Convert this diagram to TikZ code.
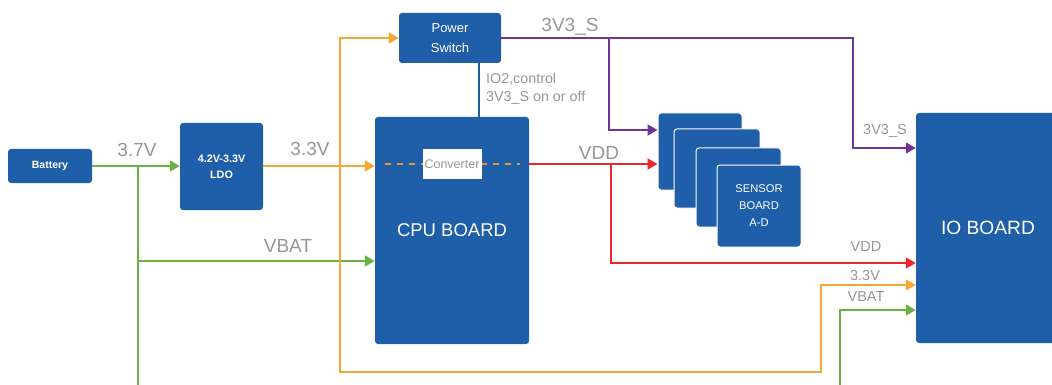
\documentclass[tikz,border=0pt]{standalone}
\usepackage{fontspec}
\setmainfont{Liberation Sans}
\usetikzlibrary{arrows.meta}
\definecolor{boxblue}{RGB}{31,94,168}
\definecolor{lgreen}{RGB}{108,178,66}
\definecolor{lorange}{RGB}{247,166,53}
\definecolor{dorange}{RGB}{222,150,60}
\definecolor{lpurple}{RGB}{112,52,152}
\definecolor{lred}{RGB}{236,40,45}
\definecolor{lgray}{RGB}{150,150,150}
\tikzset{
  board/.style={fill=boxblue, draw=none, rounded corners=3pt, inner sep=0pt, text=white, align=center},
  sbox/.style={board, draw=white, line width=1pt, minimum width=84pt},
  wire/.style={line width=1.8pt},
  tip/.style={-{Triangle[length=10pt,width=11pt]}},
  lbl/.style={text=lgray, inner sep=0pt},
  big/.style={lbl, font=\fontsize{19}{22}\selectfont},
  small/.style={lbl, font=\fontsize{14.5}{17}\selectfont},
}
\begin{document}
\begin{tikzpicture}[x=1pt,y=-1pt]
\useasboundingbox (0,0) rectangle (1052,385);
% boxes
\node[board, minimum width=84pt, minimum height=34pt, font=\fontsize{10.5}{12}\selectfont\bfseries] (batt) at (50,166) {Battery};
\node[board, minimum width=83pt, minimum height=87pt, font=\fontsize{10.8}{16}\selectfont\bfseries] (ldo) at (221.5,166.5) {4.2V-3.3V\\LDO};
\node[board, minimum width=102pt, minimum height=50pt, font=\fontsize{13}{20}\selectfont] (psw) at (450,38) {Power\\Switch};
\node[board, minimum width=154pt, minimum height=227pt] (cpu) at (452,230.5) {};
\node[text=white, font=\fontsize{18.5}{22}\selectfont] (cputxt) at (452,230) {CPU BOARD};
\draw[dorange, line width=1.6pt, dash pattern=on 6pt off 6pt] (385,164) -- (520,164);
\node[fill=white, minimum width=59pt, minimum height=30pt, inner sep=0pt, text=lgray, font=\fontsize{12.5}{14}\selectfont] (conv) at (452,164) {Converter};
\node[sbox, minimum height=77pt] (s1) at (700,151.5) {};
\node[sbox, minimum height=79pt, minimum width=86pt] (s2) at (717,168.5) {};
\node[sbox, minimum height=79pt, minimum width=85pt] (s3) at (738.5,187.5) {};
\node[sbox, minimum height=82pt, font=\fontsize{11.2}{17}\selectfont] (s4) at (759,206) {SENSOR\\BOARD\\A-D};
\node[board, minimum width=144pt, minimum height=230pt, font=\fontsize{19.2}{22}\selectfont] (io) at (988,228) {IO BOARD};
% helper coordinates
\coordinate (g1) at (138,166);
\coordinate (g2) at (138,261);
\coordinate (gb) at (138,385);
\coordinate (oB) at (340,372);
\coordinate (oU) at (821,285);
\coordinate (pR) at (853,148);
\coordinate (pb) at (609,38);
\coordinate (pc) at (609,130);
\coordinate (rb) at (611,164);
\coordinate (r2) at (611,263);
\coordinate (gv) at (840,385);
\coordinate (gv2) at (840,310);
% green
\draw[wire, lgreen, tip] (batt.east) -- (batt.east -| ldo.west);
\draw[wire, lgreen] (g1) -- (gb);
\draw[wire, lgreen, tip] (g2) -- (g2 -| cpu.west);
\draw[wire, lgreen, tip] (gv) -- (gv2) -- (gv2 -| io.west);
% orange
\draw[wire, lorange, tip] (ldo.east |- batt.east) -- (batt.east -| cpu.west);
\draw[wire, lorange, {Triangle[length=10pt,width=11pt]}-{Triangle[length=10pt,width=11pt]}] (psw.west) -| (oB) -| (oU) -- (oU -| io.west);
% blue control
\draw[wire, boxblue, line width=1.5pt] ([xshift=29pt]psw.south) -- ([xshift=27pt]cpu.north);
% purple
\draw[wire, lpurple, tip] (psw.east) -| (pR) -- (pR -| io.west);
\draw[wire, lpurple, tip] (pb) -- (pc) -- (pc -| s1.west);
% red
\draw[wire, lred, tip] (conv.east -| cpu.east) -- (conv.east -| s1.west);
\draw[wire, lred, tip] (rb) -- (r2) -- (r2 -| io.west);
% labels
\node[big] (l37) at (137,150) {3.7V};
\node[big] (l33) at (310,149) {3.3V};
\node[big] (lvbat) at (288,246) {VBAT};
\node[big] (l3v3s) at (570,27) {3V3\_S};
\node[big] (lvdd) at (599,153) {VDD};
\node[lbl, anchor=west, align=left, font=\fontsize{14.3}{18}\selectfont] (lio2) at (486,89) {IO2,control\\3V3\_S on or off};
\node[small] (s3v3s) at (885,131) {3V3\_S};
\node[small] (svdd) at (866,247) {VDD};
\node[small] (s33) at (865,276) {3.3V};
\node[small] (svbat) at (866,297) {VBAT};
\end{tikzpicture}
\end{document}
